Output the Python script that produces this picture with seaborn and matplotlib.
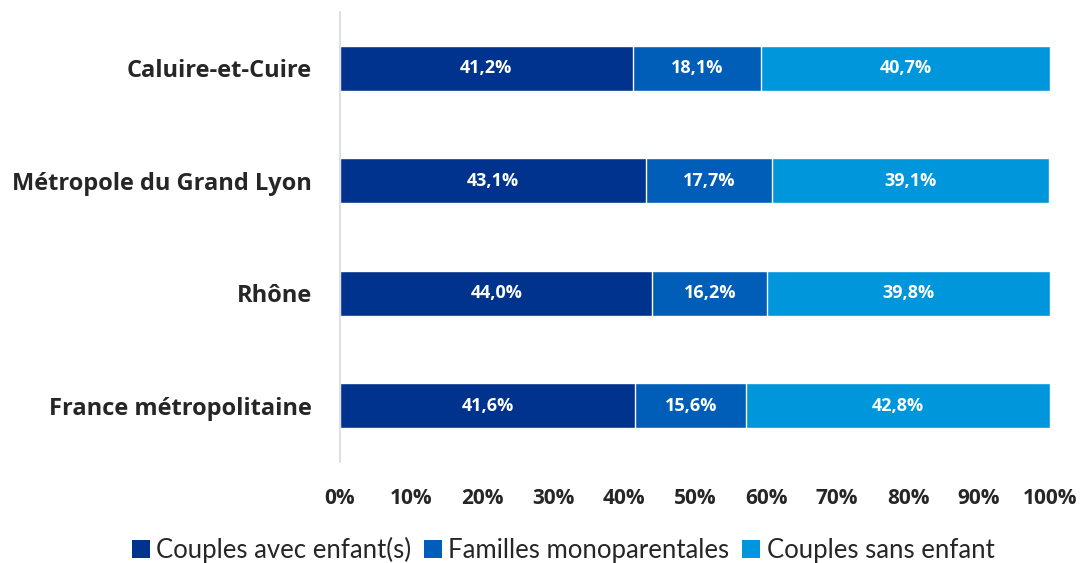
import matplotlib
matplotlib.use("Agg")
import matplotlib.pyplot as plt
import seaborn as sns
import pandas as pd
import numpy as np
from matplotlib.patches import Patch

categories = ["Caluire-et-Cuire", "Métropole du Grand Lyon", "Rhône", "France métropolitaine"]
series_names = ["Couples avec enfant(s)", "Familles monoparentales", "Couples sans enfant"]
avec_enfants = [41.2, 43.1, 44.0, 41.6]
monoparentales = [18.1, 17.7, 16.2, 15.6]
sans_enfant = [40.7, 39.1, 39.8, 42.8]
tick_labels = ["0%", "10%", "20%", "30%", "40%", "50%", "60%", "70%", "80%", "90%", "100%"]
colors = ["#00338D", "#005EB8", "#0096DB"]

sns.set_theme(style="white")
plt.rcParams["font.family"] = ["Open Sans", "DejaVu Sans"]

fig = plt.figure(figsize=(10.81, 5.63), dpi=100)
ax = fig.add_axes([340/1081, 1-462/563, (1050-340)/1081, 450/563])

series = [avec_enfants, monoparentales, sans_enfant]
cum = np.cumsum(np.array(series), axis=0)
for i in reversed(range(3)):
    df = pd.DataFrame({"cat": categories, "val": cum[i]})
    sns.barplot(data=df, y="cat", x="val", orient="h", color=colors[i],
                saturation=1, width=0.4, ax=ax, order=categories)

for j in range(len(categories)):
    left = 0
    for i in range(3):
        v = series[i][j]
        ax.text(left + v/2, j, f"{v:.1f}%".replace(".", ","), ha="center", va="center",
                color="white", fontsize=13, fontweight="bold")
        left += v

ax.set_xlim(0, 100)
ax.set_ylim(3.5, -0.5)
ax.set_xticks(np.arange(0, 101, 10))
ax.set_xticklabels(tick_labels, fontsize=15, fontweight="bold")
ax.tick_params(axis="x", pad=19, length=0)
ax.tick_params(axis="y", pad=20, length=0)
for lab in ax.get_yticklabels():
    lab.set_fontsize(17)
    lab.set_fontweight("bold")
ax.set_xlabel("")
ax.set_ylabel("")
for s in ["top", "right", "bottom"]:
    ax.spines[s].set_visible(False)
ax.spines["left"].set_color("#D9D9D9")
ax.spines["left"].set_linewidth(1.2)

handles = [Patch(facecolor=c, edgecolor="none") for c in colors]
fig.legend(handles, series_names, loc="center", bbox_to_anchor=(563/1081, 1-550/563),
           ncol=3, frameon=False,
           prop={"family": ["Lato", "DejaVu Sans"], "size": 18.5},
           handlelength=0.7, handleheight=0.7,
           handletextpad=0.25, columnspacing=0.5, borderpad=0)

fig.savefig("out.png", dpi=100)
